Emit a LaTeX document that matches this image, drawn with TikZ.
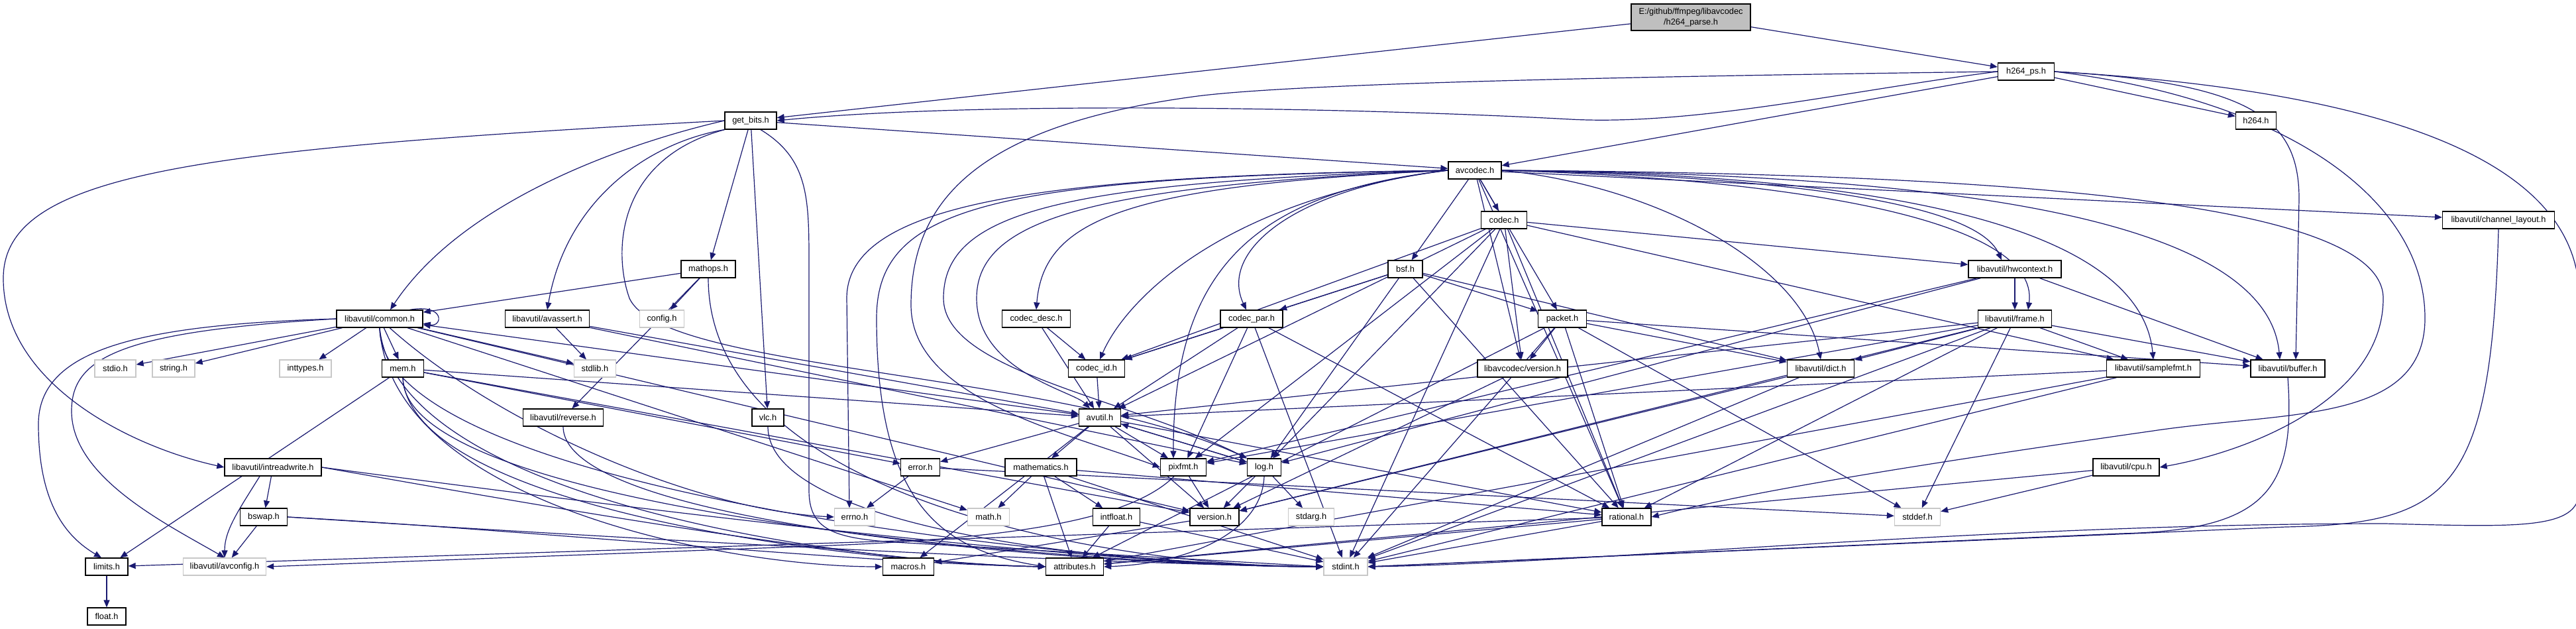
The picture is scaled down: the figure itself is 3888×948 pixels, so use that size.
\documentclass[tikz,border=0pt]{standalone}
\usepackage{fontspec}
\newfontfamily\dox{Liberation Sans}
\usetikzlibrary{arrows.meta}
\definecolor{navyc}{HTML}{191970}
\definecolor{rootfill}{HTML}{BFBFBF}
\definecolor{sysline}{HTML}{C8C8C8}
\pgfdeclarelayer{bgl}
\pgfdeclarelayer{edges}
\pgfsetlayers{bgl,edges,main}
\tikzset{
  hdr/.style={draw=black, line width=1.3pt, fill=white, minimum height=26pt, inner sep=0pt,
    font={\dox\fontsize{12.8}{15.5}\selectfont}, text=black},
  sys/.style={hdr, draw=sysline},
  rootn/.style={hdr, fill=rootfill, minimum height=40pt, align=center},
  dep/.style={draw=navyc, line width=1.2pt, -{Triangle[length=11pt,width=9pt]}},
}
\begin{document}
\begin{tikzpicture}[x=1pt,y=-1pt]
\useasboundingbox (0,0) rectangle (3888,948);
\begin{pgfonlayer}{bgl}
\fill[white] (0,0) rectangle (3888,948);
\end{pgfonlayer}
% nodes
\node[rootn, minimum width=180pt] (root) at (2552,26) {E:/github/ffmpeg/libavcodec\\/h264\_parse.h};
\node[hdr, minimum width=85pt] (h264ps) at (3058,108) {h264\_ps.h};
\node[hdr, minimum width=78pt] (getbits) at (1133,182) {get\_bits.h};
\node[hdr, minimum width=61pt] (h264) at (3405,182) {h264.h};
\node[hdr, minimum width=80pt] (avcodec) at (2226,257) {avcodec.h};
\node[hdr, minimum width=69pt] (codec) at (2270,332) {codec.h};
\node[hdr, minimum width=169pt] (chl) at (3771,332) {libavutil/channel\_layout.h};
\node[hdr, minimum width=52pt] (bsf) at (2121,406) {bsf.h};
\node[hdr, minimum width=140pt] (hwctx) at (3041,406) {libavutil/hwcontext.h};
\node[hdr, minimum width=82pt] (mathops) at (1069,406) {mathops.h};
\node[hdr, minimum width=130pt] (common) at (573,481) {libavutil/common.h};
\node[hdr, minimum width=127pt] (avassert) at (826,481) {libavutil/avassert.h};
\node[sys, minimum width=67pt] (config) at (999,481) {config.h};
\node[hdr, minimum width=103pt] (codecdesc) at (1564,481) {codec\_desc.h};
\node[hdr, minimum width=94pt] (codecpar) at (1889,481) {codec\_par.h};
\node[hdr, minimum width=73pt] (packet) at (2358,481) {packet.h};
\node[hdr, minimum width=111pt] (frame) at (3041,481) {libavutil/frame.h};
\node[sys, minimum width=62pt] (stdio) at (174,556) {stdio.h};
\node[sys, minimum width=64pt] (string) at (262,556) {string.h};
\node[sys, minimum width=78pt] (inttypes) at (461,556) {inttypes.h};
\node[hdr, minimum width=63pt] (mem) at (608,556) {mem.h};
\node[sys, minimum width=63pt] (stdlib) at (898,556) {stdlib.h};
\node[hdr, minimum width=85pt] (codecid) at (1655,556) {codec\_id.h};
\node[hdr, minimum width=136pt] (lavcver) at (2298,556) {libavcodec/version.h};
\node[hdr, minimum width=101pt] (dict) at (2748,556) {libavutil/dict.h};
\node[hdr, minimum width=141pt] (samplefmt) at (3250,556) {libavutil/samplefmt.h};
\node[hdr, minimum width=112pt] (buffer) at (3453,556) {libavutil/buffer.h};
\node[hdr, minimum width=121pt] (reverse) at (850,630) {libavutil/reverse.h};
\node[hdr, minimum width=48pt] (vlc) at (1159,630) {vlc.h};
\node[hdr, minimum width=63pt] (avutil) at (1660,630) {avutil.h};
\node[hdr, minimum width=146pt] (intrw) at (412,705) {libavutil/intreadwrite.h};
\node[hdr, minimum width=59pt] (error) at (1389,705) {error.h};
\node[hdr, minimum width=108pt] (mathem) at (1571,705) {mathematics.h};
\node[hdr, minimum width=69pt] (pixfmt) at (1786,705) {pixfmt.h};
\node[hdr, minimum width=51pt] (log) at (1908,705) {log.h};
\node[hdr, minimum width=100pt] (cpu) at (3209,705) {libavutil/cpu.h};
\node[hdr, minimum width=71pt] (bswap) at (398,780) {bswap.h};
\node[sys, minimum width=61pt] (errno) at (1290,780) {errno.h};
\node[sys, minimum width=63pt] (math) at (1492,780) {math.h};
\node[hdr, minimum width=71pt] (intfloat) at (1685,780) {intfloat.h};
\node[hdr, minimum width=74pt] (version) at (1833,780) {version.h};
\node[sys, minimum width=69pt] (stdarg) at (1979,780) {stdarg.h};
\node[hdr, minimum width=74pt] (rational) at (2455,780) {rational.h};
\node[sys, minimum width=69pt] (stddef) at (2894,780) {stddef.h};
\node[hdr, minimum width=64pt] (limits) at (161,855) {limits.h};
\node[sys, minimum width=125pt] (avconfig) at (339,855) {libavutil/avconfig.h};
\node[hdr, minimum width=77pt] (macros) at (1371,855) {macros.h};
\node[hdr, minimum width=87pt] (attributes) at (1622,855) {attributes.h};
\node[sys, minimum width=66pt] (stdint) at (2031,855) {stdint.h};
\node[hdr, minimum width=58pt] (float) at (161,930) {float.h};
% edges
\begin{pgfonlayer}{edges}
\foreach \a/\b in {root/getbits, root/h264ps, h264ps/avcodec, h264ps/h264, getbits/mathops, getbits/vlc, getbits/avcodec,
  avcodec/codec, avcodec/bsf, avcodec/packet, avcodec/lavcver, avcodec/rational, avcodec/chl,
  codec/stdint, codec/avutil, codec/hwctx, codec/log, codec/pixfmt, codec/rational, codec/samplefmt, codec/codecid, codec/lavcver,
  bsf/dict, bsf/log, bsf/rational, bsf/codecid, bsf/codecpar, bsf/packet,
  codecdesc/avutil, codecdesc/codecid, codecid/avutil,
  codecpar/stdint, codecpar/avutil, codecpar/rational, codecpar/pixfmt, codecpar/codecid,
  packet/stddef, packet/stdint, packet/attributes, packet/buffer, packet/dict, packet/rational, packet/lavcver,
  lavcver/version,
  hwctx/buffer, hwctx/frame, hwctx/log, hwctx/pixfmt,
  frame/stddef, frame/stdint, frame/avutil, frame/buffer, frame/dict, frame/rational, frame/samplefmt, frame/pixfmt, frame/version,
  dict/stdint, dict/version,
  samplefmt/stdint, samplefmt/avutil, samplefmt/attributes,
  cpu/stddef, cpu/attributes,
  avutil/common, avutil/error, avutil/rational, avutil/version, avutil/macros, avutil/mathem, avutil/log, avutil/pixfmt,
  common/stdio, common/string, common/inttypes, common/mem, common/stdlib, common/math, common/version,
  mem/limits, mem/error, mem/avutil, mem/version,
  error/errno, error/stddef,
  mathem/stdint, mathem/math, mathem/attributes, mathem/rational, mathem/intfloat,
  intfloat/stdint, intfloat/attributes,
  pixfmt/version,
  log/stdarg, log/avutil, log/version,
  version/macros,
  rational/stdint, rational/limits, rational/attributes,
  limits/float,
  intrw/bswap, bswap/avconfig,
  avassert/stdlib, avassert/avutil, avassert/log,
  mathops/common, mathops/reverse, mathops/config}
  \draw[dep] (\a) -- (\b);
% curved routes
\draw[dep] (h264ps.west) .. controls (2800,135) and (2560,190) .. (2370,180) .. controls (2100,165) and (1500,150) .. (getbits.east);
\draw[dep] (h264ps.east) .. controls (3400,125) and (3470,180) .. (3470,300) -- ([xshift=12pt]buffer.north);
\draw[dep] (h264ps.east) .. controls (3450,150) and (3660,300) .. (3660,480) .. controls (3660,640) and (3450,620) .. (3250,650) .. controls (2900,700) and (2650,740) .. (rational.east);
\draw[dep] (h264ps.east) .. controls (3650,140) and (3893,260) .. (3893,450) -- (3893,740) .. controls (3893,800) and (3800,795) .. (3600,790) .. controls (3000,790) and (2400,850) .. (stdint.east);
\draw[dep] (h264ps.west) .. controls (2500,115) and (1950,125) .. (1800,146) .. controls (1480,190) and (1375,300) .. (1375,460) .. controls (1375,600) and (1600,650) .. (pixfmt.west);
\draw[dep] ([xshift=15pt]getbits.south) .. controls (1221,240) and (1221,300) .. (1221,400) -- (1221,740) .. controls (1221,800) and (1260,812) .. (1350,818) -- (stdint.west);
\draw[dep] (getbits.west) .. controls (950,215) and (700,300) .. ([xshift=16pt]common.north);
\draw[dep] (getbits.west) .. controls (300,225) and (5,260) .. (5,420) .. controls (5,580) and (200,675) .. (intrw.west);
\draw[dep] (getbits.south west) .. controls (980,215) and (855,300) .. (avassert.north);
\draw[dep] (getbits.south west) .. controls (930,240) and (925,380) .. (950,450) .. controls (1000,560) and (1600,560) .. (log.north west);
\draw[dep] (avcodec.west) .. controls (1600,265) and (1278,300) .. (1278,450) -- ([xshift=-8pt]errno.north);
\draw[dep] (avcodec.west) .. controls (1500,268) and (1323,310) .. (1323,480) .. controls (1323,760) and (1420,830) .. (attributes.west);
\draw[dep] (avcodec.west) .. controls (1600,275) and (1424,320) .. (1424,450) .. controls (1424,560) and (1700,600) .. (log.north west);
\draw[dep] (avcodec.west) .. controls (1650,280) and (1474,330) .. (1474,450) .. controls (1474,560) and (1620,590) .. ([xshift=-15pt]avutil.north);
\draw[dep] (avcodec.west) .. controls (1700,280) and (1575,330) .. (codecdesc.north);
\draw[dep] (avcodec.west) .. controls (1900,290) and (1770,400) .. ([xshift=-15pt]pixfmt.north);
\draw[dep] (avcodec.west) .. controls (1950,285) and (1840,380) .. ([xshift=-8pt]codecpar.north);
\draw[dep] (avcodec.west) .. controls (1850,300) and (1700,450) .. ([xshift=5pt]codecid.north);
\draw[dep] (avcodec.east) .. controls (2500,280) and (2720,400) .. (dict.north);
\draw[dep] (avcodec.east) .. controls (2700,270) and (3080,330) .. ([xshift=20pt]frame.north);
\draw[dep] (avcodec.east) .. controls (2650,265) and (2980,300) .. ([xshift=-20pt]hwctx.north);
\draw[dep] (avcodec.east) .. controls (2800,262) and (3230,330) .. (samplefmt.north);
\draw[dep] (avcodec.east) .. controls (2900,262) and (3420,320) .. ([xshift=-12pt]buffer.north);
\draw[dep] (avcodec.east) .. controls (3000,262) and (3597,300) .. (3597,450) .. controls (3597,600) and (3400,680) .. (cpu.east);
\draw[dep] (buffer.south) .. controls (3465,740) and (3420,800) .. (3200,805) -- (stdint.east);
\draw[dep] (chl.south) .. controls (3760,740) and (3700,790) .. (3450,795) -- (stdint.east);
% into stdint from the left
\draw[dep] (common.south) .. controls (573,750) and (1700,855) .. (stdint.west);
\draw[dep] (mem.south) .. controls (608,780) and (1700,855) .. (stdint.west);
\draw[dep] (mathops.south) .. controls (1069,760) and (1700,855) .. (stdint.west);
\draw[dep] (reverse.south) .. controls (850,800) and (1700,855) .. (stdint.west);
\draw[dep] (vlc.south) .. controls (1159,800) and (1700,855) .. (stdint.west);
\draw[dep] (intrw.east) .. controls (900,760) and (1600,850) .. (stdint.west);
\draw[dep] (bswap.east) .. controls (900,810) and (1600,850) .. (stdint.west);
% into attributes from the left
\draw[dep] (common.south) .. controls (600,760) and (1300,850) .. (attributes.west);
\draw[dep] (mem.south) .. controls (620,770) and (1300,850) .. (attributes.west);
\draw[dep] (intrw.east) .. controls (800,760) and (1300,850) .. (attributes.west);
\draw[dep] (bswap.east) .. controls (800,800) and (1300,850) .. (attributes.west);
\draw[dep] (common.south) .. controls (590,760) and (1100,855) .. (macros.west);
\draw[dep] (common.west) .. controls (200,490) and (58,530) .. (58,640) .. controls (58,760) and (100,810) .. ([xshift=-8pt]limits.north);
\draw[dep] (common.west) .. controls (180,500) and (108,540) .. (108,620) .. controls (108,720) and (250,790) .. (avconfig.north);
\draw[dep] (common) .. controls (750,640) and (1050,770) .. (errno.west);
\draw[dep] ([xshift=-20pt]common.north east) .. controls (673,458) and (668,494) .. ([yshift=-7pt]common.east);
\draw[dep] ([xshift=-20pt]intrw.south) .. controls (360,770) and (339,800) .. (avconfig.north);
\draw[dep] (pixfmt) .. controls (1700,790) and (1500,815) .. (1200,825) -- (avconfig.east);
\draw[dep] (log.south) .. controls (1905,800) and (1800,850) .. (attributes.east);
\end{pgfonlayer}
\end{tikzpicture}
\end{document}
